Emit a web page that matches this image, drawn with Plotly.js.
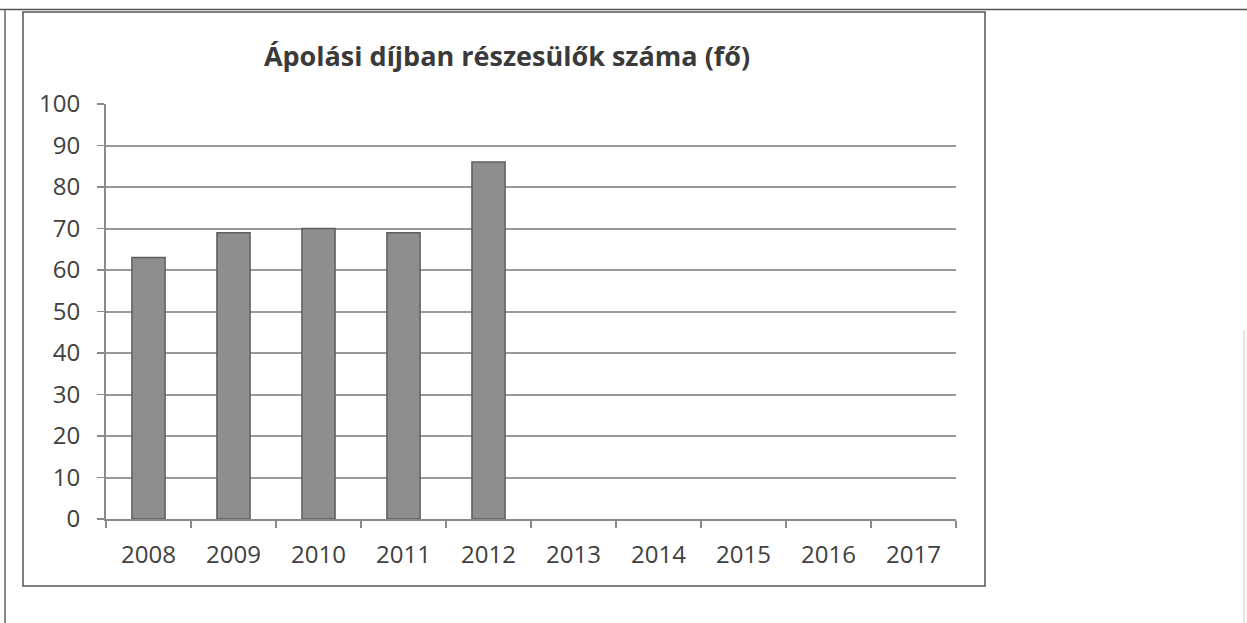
<!DOCTYPE html>
<html>
<head>
<meta charset="utf-8">
<script src="https://cdn.plot.ly/plotly-3.0.1.min.js"></script>
<style>html,body{margin:0;padding:0;background:#fff;}#chart{width:1247px;height:623px;}</style>
</head>
<body>
<div id="chart"></div>
<script>
const years = ["2008","2009","2010","2011","2012","2013","2014","2015","2016","2017"];
const values = [63, 69, 70, 69, 86, null, null, null, null, null];
const yTicks = [0,10,20,30,40,50,60,70,80,90,100];
const titleText = "Ápolási díjban részesülők száma (fő)";

// pixel geometry of plot area
const L = 106, R = 956, T = 104, B = 519, W = 1247, H = 623;
const px = x => (x - L) / (R - L);
const py = y => (B - y) / (B - T);

const trace = {
  type: "bar",
  x: years,
  y: values,
  marker: {color: "#8e8e8e", line: {color: "#5f5f5f", width: 1.5}},
  hoverinfo: "x+y"
};

const layout = {
  width: W, height: H,
  margin: {l: L, r: W - R, t: T, b: H - B, pad: 0},
  paper_bgcolor: "#ffffff",
  plot_bgcolor: "#ffffff",
  showlegend: false,
  bargap: 0.61,
  title: {
    text: "<b>" + titleText + "</b>",
    font: {family: "Open Sans", size: 27, color: "#3a3a3a"},
    x: 507 / W, xanchor: "center",
    y: 1 - 57 / H, yanchor: "middle"
  },
  xaxis: {
    type: "category",
    tickson: "boundaries",
    ticks: "outside", ticklen: 7, tickcolor: "#8a8a8a", tickwidth: 1.5,
    showline: true, linecolor: "#8a8a8a", linewidth: 2,
    showgrid: false, zeroline: false,
    tickfont: {family: "Open Sans", size: 24, color: "#404040"},
    ticklabelstandoff: 13,
    range: [-0.5, 9.5]
  },
  yaxis: {
    range: [0, 100],
    tickvals: yTicks,
    ticktext: yTicks.map(String),
    ticks: "outside", ticklen: 7, tickcolor: "#8a8a8a", tickwidth: 1.5,
    showline: true, linecolor: "#8a8a8a", linewidth: 2,
    showgrid: true, gridcolor: "#999999", gridwidth: 2,
    zeroline: false,
    tickfont: {family: "Open Sans", size: 24, color: "#404040"},
    ticklabelstandoff: 12
  },
  shapes: [
    // chart frame
    {type: "rect", xref: "paper", yref: "paper",
     x0: px(23), x1: px(985), y0: py(586), y1: py(12),
     line: {color: "#555555", width: 1.5}},
    // page top line
    {type: "line", xref: "paper", yref: "paper",
     x0: px(0), x1: px(1247), y0: py(9.5), y1: py(9.5),
     line: {color: "#555555", width: 1.5}},
    // page left line
    {type: "line", xref: "paper", yref: "paper",
     x0: px(5), x1: px(5), y0: py(9.5), y1: py(623),
     line: {color: "#666666", width: 1.5}},
    // page right faint line
    {type: "line", xref: "paper", yref: "paper",
     x0: px(1244), x1: px(1244), y0: py(330), y1: py(623),
     line: {color: "#cccccc", width: 1}}
  ]
};

Plotly.newPlot("chart", [trace], layout, {staticPlot: true, displayModeBar: false});
</script>
</body>
</html>
